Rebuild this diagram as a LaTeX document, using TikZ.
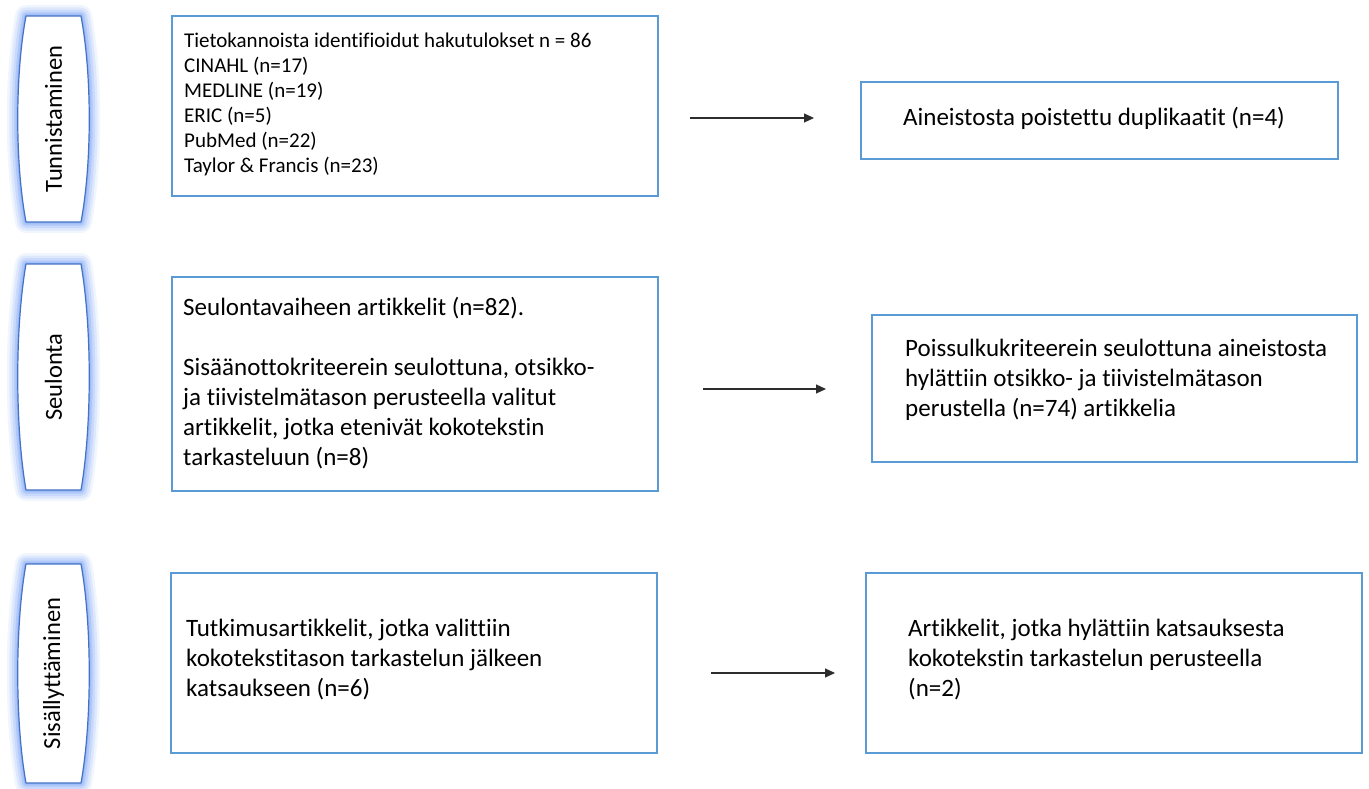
\documentclass[tikz,border=0pt]{standalone}
\usepackage{fontspec}
\setmainfont{Carlito}[Ligatures=NoCommon]
\usetikzlibrary{arrows.meta}
\definecolor{boxblue}{RGB}{91,155,213}
\definecolor{pillblue}{RGB}{68,114,196}
\definecolor{glowblue}{RGB}{110,155,245}
\definecolor{arrowgray}{RGB}{45,45,45}
\tikzset{
  stage/.style={draw=pillblue, line width=1.2pt, line join=round, fill=white,
    preaction={draw=glowblue, line width=22pt, line join=round, opacity=0.1},
    preaction={draw=glowblue, line width=17pt, line join=round, opacity=0.14},
    preaction={draw=glowblue, line width=12pt, line join=round, opacity=0.2},
    preaction={draw=glowblue, line width=7pt, line join=round, opacity=0.28},
    preaction={draw=glowblue, line width=3pt, line join=round, opacity=0.35}},
  stagetext/.style={inner sep=0pt, font=\fontsize{24.5}{30}\selectfont},
  box/.style={draw=boxblue, line width=1.1pt, inner sep=0pt},
  txt/.style={anchor=west, align=left, inner sep=0pt, font=\fontsize{25}{30}\selectfont},
  flow/.style={-{Triangle[length=10pt,width=9pt]}, draw=arrowgray, line width=1.2pt}
}
\begin{document}
\begin{tikzpicture}[x=1pt,y=-1pt]
      \useasboundingbox (0,0) rectangle (1369,789);
      \draw[stage] (53.5,16) -- (81,16) .. controls (92,75) and (92,163) .. (81,222)
        -- (26,222) .. controls (15,163) and (15,75) .. (26,16) -- cycle;
      \draw[stage] (53.5,264) -- (81,264) .. controls (92,328) and (92,426) .. (81,490)
        -- (26,490) .. controls (15,426) and (15,328) .. (26,264) -- cycle;
      \draw[stage] (53.5,564) -- (81,564) .. controls (92,625) and (92,722) .. (81,783)
        -- (26,783) .. controls (15,722) and (15,625) .. (26,564) -- cycle;
      \draw
        (53.5,119) node[stagetext] (tunn){\rotatebox{90}{Tunnistaminen}}
        (53.5,377) node[stagetext] (seul){\rotatebox{90}{Seulonta}}
        (53.5,673.5) node[stagetext] (sis){\rotatebox{90}{Sisällyttäminen}};
      \draw
        (415,106) node[box, minimum width=486pt, minimum height=180pt] (haku){}
        (1099.5,120.5) node[box, minimum width=477pt, minimum height=77pt] (dupl){}
        (415,384) node[box, minimum width=486pt, minimum height=214pt] (seulottu){}
        (1114.5,388.5) node[box, minimum width=485pt, minimum height=147pt] (hylatty){}
        (414,663) node[box, minimum width=486pt, minimum height=180pt] (valittu){}
        (1114,663) node[box, minimum width=496pt, minimum height=180pt] (koko){};
      \draw
        (184,104.5) node[txt, font=\fontsize{21}{25}\selectfont] (haku-t){Tietokannoista identifioidut hakutulokset n = 86\\CINAHL (n=17)\\MEDLINE (n=19)\\ERIC (n=5)\\PubMed (n=22)\\Taylor \& Francis (n=23)}
        (903,118) node[txt] (dupl-t){Aineistosta poistettu duplikaatit (n=4)}
        (183,383) node[txt] (seulottu-t){Seulontavaiheen artikkelit (n=82).\\[30pt]Sisäänottokriteerein seulottuna, otsikko-\\ja tiivistelmätason perusteella valitut\\artikkelit, jotka etenivät kokotekstin\\tarkasteluun (n=8)}
        (905,380) node[txt] (hylatty-t){Poissulkukriteerein seulottuna aineistosta\\hylättiin otsikko- ja tiivistelmätason\\perustella (n=74) artikkelia}
        (186,659.5) node[txt] (valittu-t){Tutkimusartikkelit, jotka valittiin\\kokotekstitason tarkastelun jälkeen\\katsaukseen (n=6)}
        (908,660) node[txt] (koko-t){Artikkelit, jotka hylättiin katsauksesta\\kokotekstin tarkastelun perusteella\\(n=2)};
      \coordinate (a1) at (690,118);
      \coordinate (b1) at (814,118);
      \coordinate (a2) at (703,389);
      \coordinate (b2) at (826,389);
      \coordinate (a3) at (711,673);
      \coordinate (b3) at (835,673);
      \begin{scope}[flow]
        \draw (a1) to (b1);
        \draw (a2) to (b2);
        \draw (a3) to (b3);
      \end{scope}
    \end{tikzpicture}
\end{document}
